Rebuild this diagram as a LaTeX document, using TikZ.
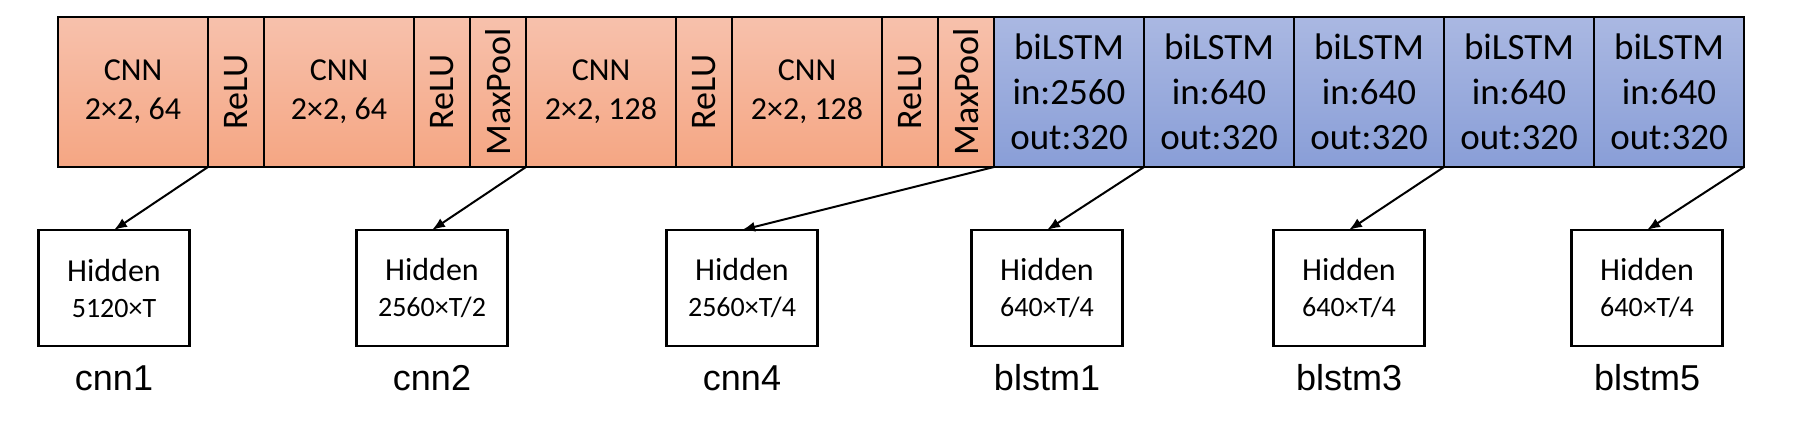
\documentclass[tikz,border=0pt]{standalone}
\usepackage{fontspec}
\setmainfont{Carlito}
\newfontfamily\lblfont{Liberation Sans}
\usepackage{graphicx}
\usetikzlibrary{arrows.meta,positioning}

\definecolor{cnntop}{RGB}{247,193,172}
\definecolor{cnnbot}{RGB}{245,166,131}
\definecolor{lstmtop}{RGB}{170,184,226}
\definecolor{lstmbot}{RGB}{137,158,215}

\def\barh{150pt}
\def\blockw{150pt}
\def\actw{56pt}

\begin{document}
\begin{tikzpicture}[x=1pt,y=-1pt,>={Latex[length=13pt,width=10pt]}]
	\tikzstyle{layer}=[draw=black,line width=1.8pt,minimum height=\barh,inner sep=0pt,outer sep=0pt,align=center]
	\tikzstyle{cnn layer}=[layer,minimum width=\blockw,top color=cnntop,bottom color=cnnbot,font=\fontsize{32}{39}\selectfont]
	\tikzstyle{act layer}=[layer,minimum width=\actw,top color=cnntop,bottom color=cnnbot,font=\fontsize{36}{36}\selectfont]
	\tikzstyle{lstm layer}=[layer,minimum width=\blockw,top color=lstmtop,bottom color=lstmbot,font=\fontsize{37}{45}\selectfont]
	\tikzstyle{hidden}=[draw=black,line width=2.7pt,fill=white,minimum width=151pt,minimum height=116pt,inner sep=0pt,outer sep=0pt,align=center,font=\fontsize{32}{36}\selectfont]
	\tikzstyle{tap}=[->,line width=2pt]
	\tikzstyle{annot}=[anchor=base,inner sep=0pt,font=\lblfont\fontsize{36}{40}\selectfont]

	\useasboundingbox (0,0) rectangle (1795,420);

	% CNN part of the encoder
	\node[cnn layer] (C-1) at (133,92) {CNN\\2×2, 64};
	\node[act layer,right=0pt of C-1] (R-1) {\rotatebox{90}{ReLU}};
	\node[cnn layer,right=0pt of R-1] (C-2) {CNN\\2×2, 64};
	\node[act layer,right=0pt of C-2] (R-2) {\rotatebox{90}{ReLU}};
	\node[act layer,right=0pt of R-2] (M-1) {\rotatebox{90}{MaxPool}};
	\node[cnn layer,right=0pt of M-1] (C-3) {CNN\\2×2, 128};
	\node[act layer,right=0pt of C-3] (R-3) {\rotatebox{90}{ReLU}};
	\node[cnn layer,right=0pt of R-3] (C-4) {CNN\\2×2, 128};
	\node[act layer,right=0pt of C-4] (R-4) {\rotatebox{90}{ReLU}};
	\node[act layer,right=0pt of R-4] (M-2) {\rotatebox{90}{MaxPool}};

	% biLSTM part
	\node[lstm layer,right=0pt of M-2] (B-1) {biLSTM\\in:2560\\out:320};
	\foreach \name / \prev in {2/1,3/2,4/3,5/4}
	\node[lstm layer,right=0pt of B-\prev] (B-\name) {biLSTM\\in:640\\out:320};

	% Hidden outputs that are tapped
	\foreach \name / \x / \dims / \lbl in {1/114/{5120×T}/cnn1, 2/432/{2560×T/2}/cnn2,
		3/742/{2560×T/4}/cnn4, 4/1047/{640×T/4}/blstm1, 5/1349/{640×T/4}/blstm3, 6/1647/{640×T/4}/blstm5}
	{
		\node[hidden] (H-\name) at (\x,288) {Hidden\\{\fontsize{28}{36}\selectfont \dims}};
		\node[annot] (L-\name) at (\x,390) {\lbl};
	}

	% Connect the layers with their hidden outputs
	\draw[tap] (R-1.south west) -- (H-1.north);
	\draw[tap] (M-1.south east) -- (H-2.north);
	\draw[tap] (M-2.south east) -- (H-3.north);
	\draw[tap] (B-1.south east) -- (H-4.north);
	\draw[tap] (B-3.south east) -- (H-5.north);
	\draw[tap] (B-5.south east) -- (H-6.north);
\end{tikzpicture}
\end{document}
